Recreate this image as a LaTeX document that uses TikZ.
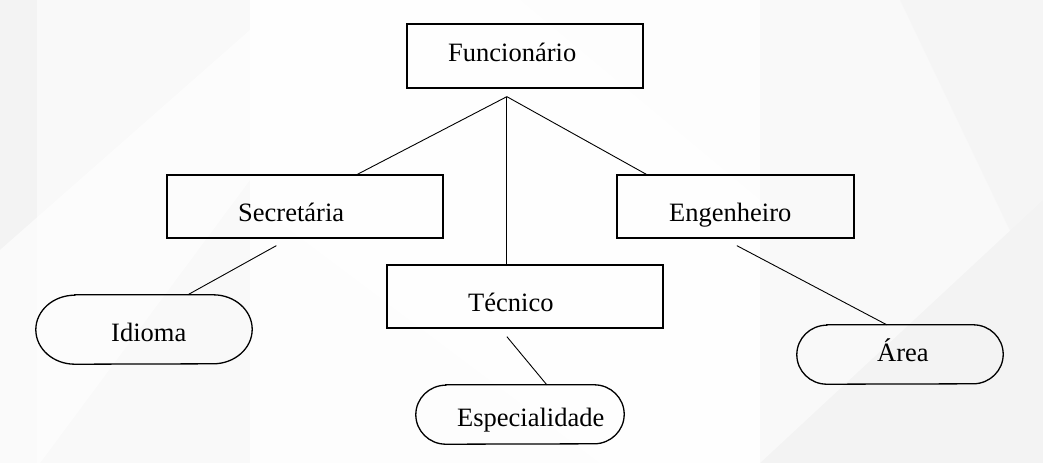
\documentclass[tikz,border=0pt]{standalone}
\usepackage{fontspec}
\setmainfont{Liberation Serif}
\usetikzlibrary{calc}
\definecolor{bgA}{HTML}{F3F3F3}
\definecolor{bgB}{HTML}{F9F9F9}
\definecolor{bgC}{HTML}{FDFDFD}
\begin{document}
\begin{tikzpicture}[x=1pt,y=-1pt,
  boxnode/.style={draw=black,line width=1.3pt,inner sep=0pt,minimum width=#1},
  ovalnode/.style={inner sep=0pt,minimum width=#1},
  ovalline/.style={draw=black,line width=1.3pt},
  lbl/.style={anchor=base west,inner sep=0pt,font=\fontsize{26.5}{30}\selectfont},
  conn/.style={draw=black,line width=0.9pt}]
% background
\fill[bgA] (0,0) rectangle (1043,463);
\useasboundingbox (0,0) rectangle (1043,463);
\fill[bgB] (37,0) -- (250,0) -- (250,463) -- (37,463) -- cycle;
\fill[bgC] (250,0) -- (760,0) -- (760,463) -- (250,463) -- cycle;
\fill[bgB] (760,0) -- (1043,0) -- (1043,200) -- (760,463) -- cycle;
\fill[white,opacity=0.6] (0,250) -- (250,30) -- (250,180) -- (40,463) -- (0,463) -- cycle;
\fill[white,opacity=0.7] (250,0) -- (520,0) -- (760,200) -- (760,463) -- (600,463) -- (250,200) -- cycle;
\fill[bgA,opacity=0.5] (900,0) -- (1043,0) -- (1043,300) -- cycle;
% boxes
\node[boxnode=236pt,minimum height=64pt] (F) at (525,56) {};
\node[boxnode=276pt,minimum height=63pt] (S) at (305,206.5) {};
\node[boxnode=237pt,minimum height=63pt] (E) at (735.5,206.5) {};
\node[boxnode=276pt,minimum height=63pt] (T) at (525,296.5) {};
\node[ovalnode=216pt,minimum height=69pt] (I) at (144,329.5) {};
\node[ovalnode=208pt,minimum height=59pt] (P) at (520,414.5) {};
\node[ovalnode=206pt,minimum height=59pt] (A) at (900,354.5) {};
% oval outlines
\draw[ovalline] ($(I.north west)+(39,0)$) -- ($(I.north east)+(-39,0)$)
  arc[start angle=90,end angle=-90,x radius=39,y radius=-34.5]
  -- ($(I.south west)+(39,0)$)
  arc[start angle=270,end angle=90,x radius=39,y radius=-34.5] -- cycle;
\draw[ovalline] ($(P.north west)+(30,0)$) -- ($(P.north east)+(-30,0)$)
  arc[start angle=90,end angle=-90,x radius=30,y radius=-29.5]
  -- ($(P.south west)+(30,0)$)
  arc[start angle=270,end angle=90,x radius=30,y radius=-29.5] -- cycle;
\draw[ovalline] ($(A.north west)+(30,0)$) -- ($(A.north east)+(-30,0)$)
  arc[start angle=90,end angle=-90,x radius=30,y radius=-29.5]
  -- ($(A.south west)+(30,0)$)
  arc[start angle=270,end angle=90,x radius=30,y radius=-29.5] -- cycle;
% labels
\node[lbl] (Ft) at (448,61) {Funcionário};
\node[lbl] (St) at (238,221) {Secretária};
\node[lbl] (Et) at (669,221) {Engenheiro};
\node[lbl] (Tt) at (468,311) {Técnico};
\node[lbl] (It) at (111,341.5) {Idioma};
\node[lbl] (Pt) at (457,426.5) {Especialidade};
\node[lbl] (At) at (877,361.5) {Área};
% connectors
\coordinate (j) at ($(F.south west)+(100.5,8)$);
\draw[conn] (j) -- ($(S.north west)+(191,0)$);
\draw[conn] (j) -- ($(T.north west)+(120.5,0)$);
\draw[conn] (j) -- ($(E.north west)+(30,0)$);
\draw[conn] ($(S.south west)+(110,7)$) -- ($(I.north west)+(152,0)$);
\draw[conn] ($(T.south west)+(120.5,8)$) -- ($(P.north west)+(131,0)$);
\draw[conn] ($(E.south west)+(120.5,7)$) -- ($(A.north west)+(90,0)$);
\end{tikzpicture}
\end{document}
